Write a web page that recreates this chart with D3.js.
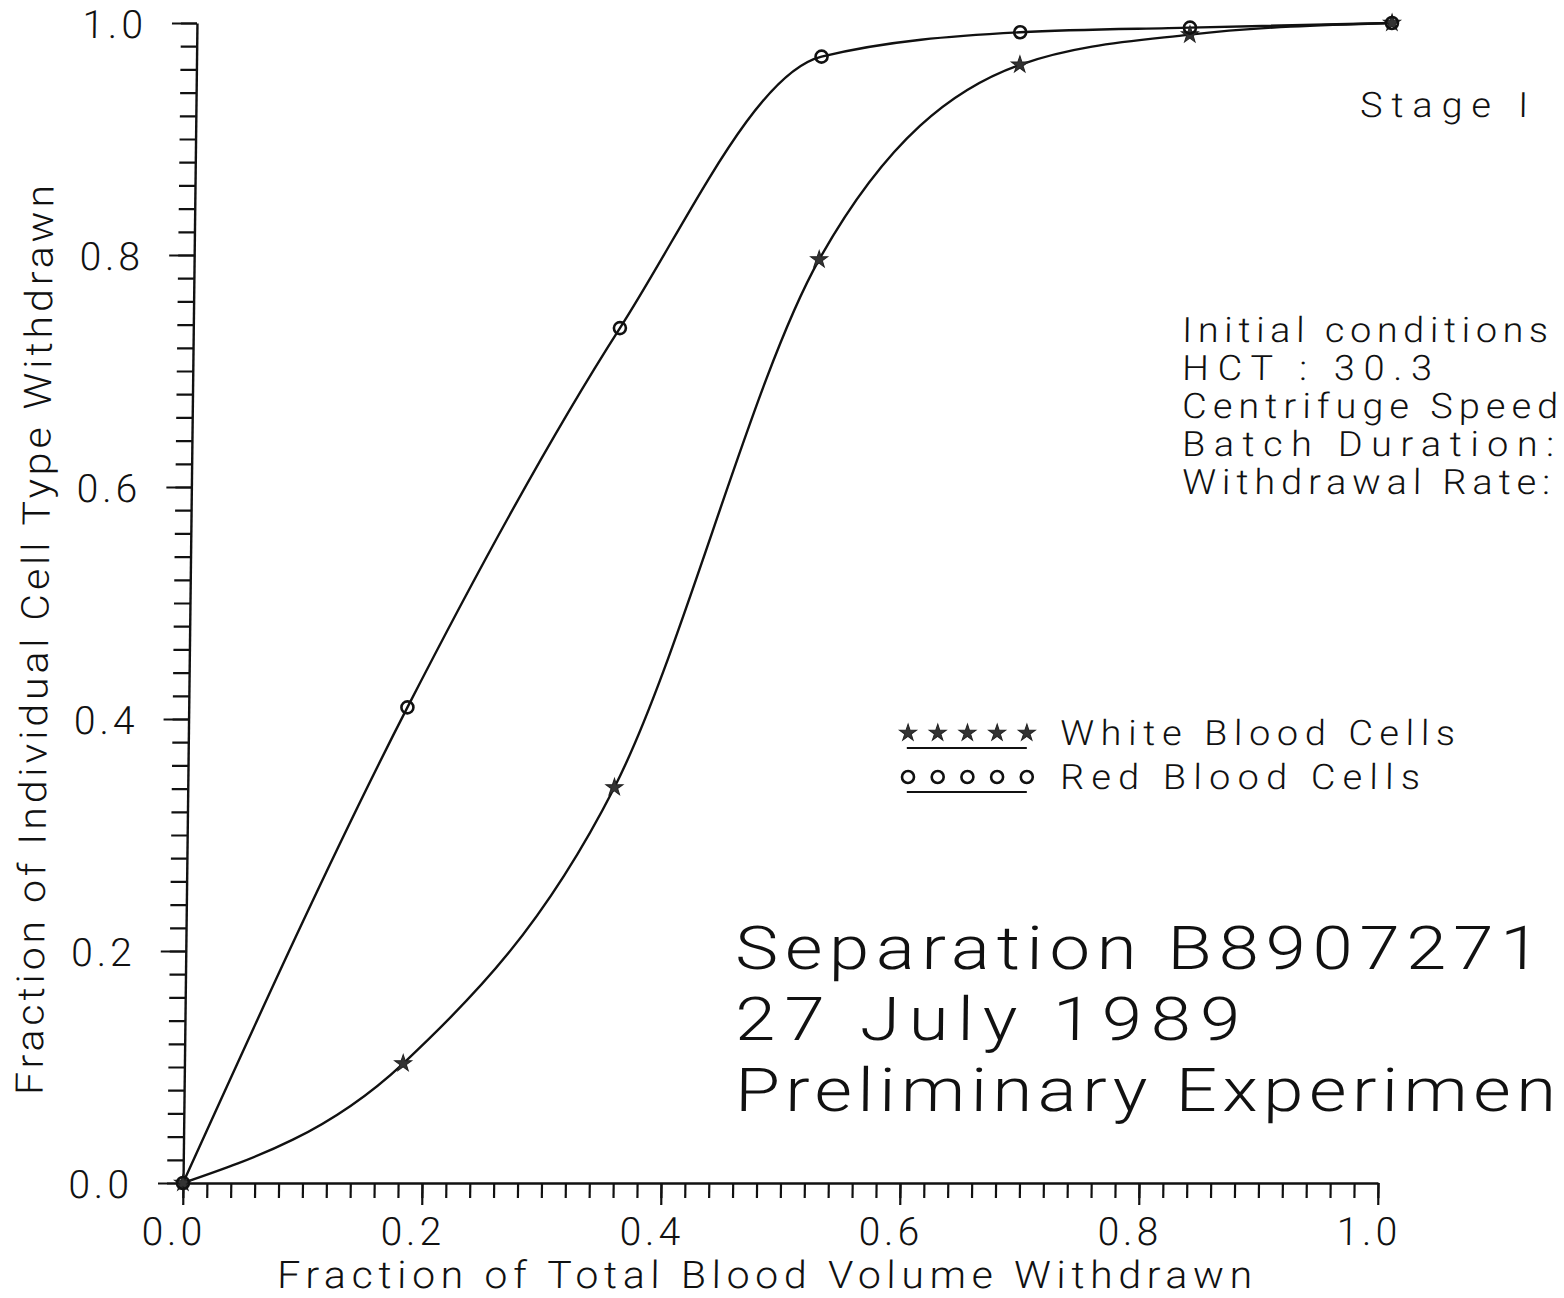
<!DOCTYPE html>
<html>
<head>
<meta charset="utf-8">
<script src="https://cdn.jsdelivr.net/npm/d3@7"></script>
<style>
  html, body { margin: 0; padding: 0; background: #fff; }
  svg { display: block; }
  text { font-family: Roboto, 'Open Sans', 'DejaVu Sans', sans-serif; font-weight: 300; fill: #111; }
</style>
</head>
<body>
<script>
// Withdrawal fractions (x) shared by both cell types
const volumeWithdrawn = [0, 0.183, 0.357, 0.523, 0.689, 0.831, 1.0];
// Fraction of each cell type withdrawn
const redCells   = [0, 0.41, 0.737, 0.971, 0.992, 0.996, 1.0];
const whiteCells = [0, 0.103, 0.341, 0.796, 0.964, 0.990, 1.0];
const seriesNames = ["White  Blood  Cells", "Red  Blood  Cells"];
const majorTicks = [0, 0.2, 0.4, 0.6, 0.8, 1.0];
const tickLabels = ["0.0", "0.2", "0.4", "0.6", "0.8", "1.0"];
const infoLines = ["Initial  conditions", "HCT  :  30.3", "Centrifuge  Speed", "Batch  Duration:", "Withdrawal  Rate:"];
const titleLines = ["Separation  B8907271", "27  July  1989", "Preliminary  Experimen"];

const W = 1564, H = 1298;
const x0 = 183, y0 = 1183;
const x = d3.scaleLinear().domain([0, 1]).range([x0, 1378]);
const y = d3.scaleLinear().domain([0, 1]).range([y0, 23]);
const minorTicks = d3.range(0, 51).map(i => i / 50);

// plotter sheet has a slight lean: top edge sits further right than the bottom
const lean = 0.69;
const k = Math.tan(lean * Math.PI / 180);
const ux = (px, py) => px - k * (y0 - py);

const svg = d3.select("body").append("svg").attr("width", W).attr("height", H);
const g = svg.append("g")
  .attr("transform", `translate(${x0},${y0}) skewX(${-lean}) translate(${-x0},${-y0})`);

// text whose glyph run is spread to a fixed width; sx widens the glyphs themselves
function spreadText(sel, px, py, size, width, str, sx = 1) {
  return sel.append("text")
    .attr("transform", `translate(${ux(px, py)},${py}) scale(${sx},1)`)
    .attr("font-size", size)
    .attr("textLength", width / sx).attr("lengthAdjust", "spacing")
    .text(str);
}

// ---- axes ----
function styleAxis(sel) {
  sel.selectAll("path.domain").attr("stroke", "#111").attr("stroke-width", 2.4);
  sel.selectAll(".tick line").attr("stroke", "#111").attr("stroke-width", 2.2);
}
const xMinor = g.append("g").attr("transform", `translate(0,${y0})`)
  .call(d3.axisBottom(x).tickValues(minorTicks).tickSize(15).tickSizeOuter(0).tickFormat(""));
const xMajor = g.append("g").attr("transform", `translate(0,${y0})`)
  .call(d3.axisBottom(x).tickValues(majorTicks).tickSize(22).tickSizeOuter(0).tickPadding(12)
    .tickFormat((d, i) => tickLabels[i]));
const yMinor = g.append("g").attr("transform", `translate(${x0},0)`)
  .call(d3.axisLeft(y).tickValues(minorTicks).tickSize(16).tickSizeOuter(0).tickFormat(""));
const yMajor = g.append("g").attr("transform", `translate(${x0},0)`)
  .call(d3.axisLeft(y).tickValues(majorTicks).tickSize(25).tickSizeOuter(0).tickPadding(25)
    .tickFormat((d, i) => tickLabels[i]));
[xMinor, xMajor, yMinor, yMajor].forEach(styleAxis);
[xMinor, yMinor].forEach(a => a.select("path.domain").remove());
[xMajor, yMajor].forEach(a => a.selectAll("text")
  .attr("font-size", 39).attr("letter-spacing", 4)
  .style("font-family", "Roboto, 'Open Sans', sans-serif").style("font-weight", 300).attr("fill", "#111"));
xMajor.selectAll("text").attr("dx", -9);
yMajor.selectAll("text").attr("dy", "0.36em");

// ---- axis titles ----
spreadText(g, 277, 1288, 38, 975, "Fraction  of  Total  Blood  Volume  Withdrawn", 1.08);
g.append("text")
  .attr("transform", `translate(${ux(48, 640)},640) rotate(-90) scale(1.08,1)`)
  .attr("text-anchor", "middle")
  .attr("font-size", 38).attr("textLength", 910 / 1.08).attr("lengthAdjust", "spacing")
  .text("Fraction  of  Individual  Cell  Type  Withdrawn");

// ---- curves ----
const line = d3.line()
  .x((d, i) => x(volumeWithdrawn[i]))
  .y(d => y(d))
  .curve(d3.curveMonotoneX);
[redCells, whiteCells].forEach(vals => {
  g.append("path").attr("d", line(vals))
    .attr("fill", "none").attr("stroke", "#111").attr("stroke-width", 2.4);
});

// ---- markers ----
const star = d3.symbol().type(d3.symbolStar).size(90);
function drawStar(sel, px, py) {
  sel.append("path").attr("d", star()).attr("transform", `translate(${px},${py})`)
    .attr("fill", "#333").attr("stroke", "#222").attr("stroke-width", 1);
}
function drawCircle(sel, px, py) {
  sel.append("circle").attr("cx", px).attr("cy", py).attr("r", 6)
    .attr("fill", "none").attr("stroke", "#111").attr("stroke-width", 2.6);
}
whiteCells.forEach((v, i) => drawStar(g, x(volumeWithdrawn[i]), y(v)));
redCells.forEach((v, i) => drawCircle(g, x(volumeWithdrawn[i]), y(v)));

// ---- legend ----
const legendRows = [
  { name: seriesNames[0], my: 733, draw: drawStar, width: 395 },
  { name: seriesNames[1], my: 777, draw: drawCircle, width: 360 }
];
legendRows.forEach(r => {
  const lx0 = ux(907, r.my);
  d3.range(5).forEach(j => r.draw(g, lx0 + 1 + j * 29.7, r.my));
  g.append("line").attr("x1", lx0).attr("x2", lx0 + 120)
    .attr("y1", r.my + 15).attr("y2", r.my + 15)
    .attr("stroke", "#111").attr("stroke-width", 2.2);
  spreadText(g, 1060, r.my + 12, 35, r.width, r.name, 1.08);
});

// ---- annotations ----
spreadText(g, 1360, 117, 35, 168, "Stage  I", 1.08);

const infoWidths = [366, 250, 376, 372, 368];
infoLines.forEach((t, i) => spreadText(g, 1182, 342 + i * 38, 35, infoWidths[i], t, 1.08));

const titleWidths = [805, 505, 821];
titleLines.forEach((t, i) => spreadText(g, 735, 969 + i * 71, 60.5, titleWidths[i], t, 1.2));
</script>
</body>
</html>
